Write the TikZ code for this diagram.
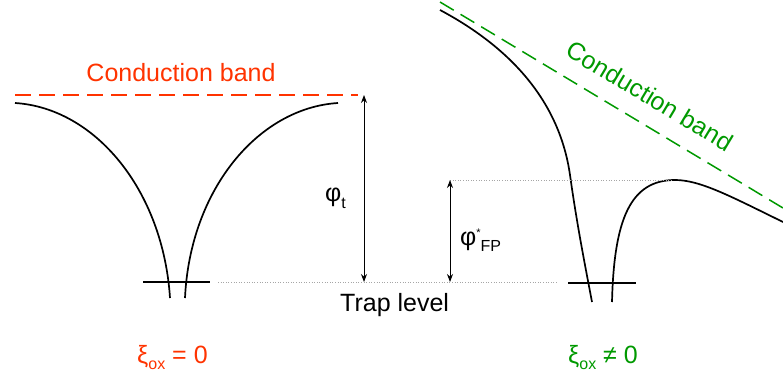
\documentclass[tikz,border=0pt]{standalone}
\usepackage{fontspec}
\setmainfont{Liberation Sans}
\usepackage{tikz}
\usetikzlibrary{arrows.meta}

\definecolor{bandred}{RGB}{255,51,0}
\definecolor{bandgreen}{RGB}{0,153,0}
\newcommand{\lowtxt}[1]{\raisebox{-6pt}{\fontsize{16}{16}\selectfont #1}}
\newcommand{\hightxt}[1]{\raisebox{9pt}{\fontsize{11}{11}\selectfont #1}}

\begin{document}
\begin{tikzpicture}[x=1pt, y=-1pt, font=\fontsize{25}{29}\selectfont,
    band/.style={dash pattern=on 16pt off 8pt, line width=1.5pt},
    well/.style={line width=1.7pt},
    gap/.style={{Stealth[length=8pt,width=6pt]}-{Stealth[length=8pt,width=6pt]}, line width=0.8pt},
    guide/.style={gray!70, dotted, line width=0.6pt}]
    \useasboundingbox (0,0) rectangle (783,379);

    % Trap without field
    \draw[band, bandred] (15,95) -- (358,95);
    \draw[well] (15,103) .. controls (95,108) and (163,190) .. (170,298);
    \draw[well] (338,103) .. controls (258,108) and (190,190) .. (185,298);
    \draw[well] (143,282) -- (210,282);
    \node[bandred, anchor=base] (cbred) at (181,82) {Conduction band};

    % Trap with field
    \draw[band, bandgreen] (440,2) -- (783,208);
    \draw[well] (440,10) .. controls (515,50) and (560,105) .. (570,175)
        .. controls (577,225) and (585,265) .. (592,302);
    \draw[well] (612,302) .. controls (614,220) and (630,180) .. (675,180)
        .. controls (700,180) and (730,196) .. (783,222);
    \draw[well] (568,283) -- (636,283);
    \node[bandgreen, rotate=-31] (cbgreen) at (650,96) {Conduction band};

    % Barrier heights
    \coordinate (cbtop) at (364,95);
    \coordinate (traptop) at (364,282);
    \coordinate (peak) at (450,180);
    \coordinate (trapfp) at (450,282);
    \draw[guide] (218,282) -- (558,282);
    \draw[guide] (peak) -- (672,180);
    \draw[gap] (cbtop) -- (traptop);
    \draw[gap] (peak) -- (trapfp);
    \node[anchor=base west, inner sep=0pt] (phit) at (325,202) {φ\lowtxt{t}};
    \node[anchor=base west, inner sep=0pt] (phifp) at (460,245) {φ\hightxt{*}\lowtxt{FP}};
    \node[anchor=base west, inner sep=0pt] (trap) at (340,311) {Trap level};

    % Field labels
    \node[bandred, anchor=base west, inner sep=0pt] (xizero) at (137,363) {ξ\lowtxt{ox} = 0};
    \node[bandgreen, anchor=base west, inner sep=0pt] (xinonzero) at (568,363) {ξ\lowtxt{ox} ≠ 0};
\end{tikzpicture}
\end{document}
